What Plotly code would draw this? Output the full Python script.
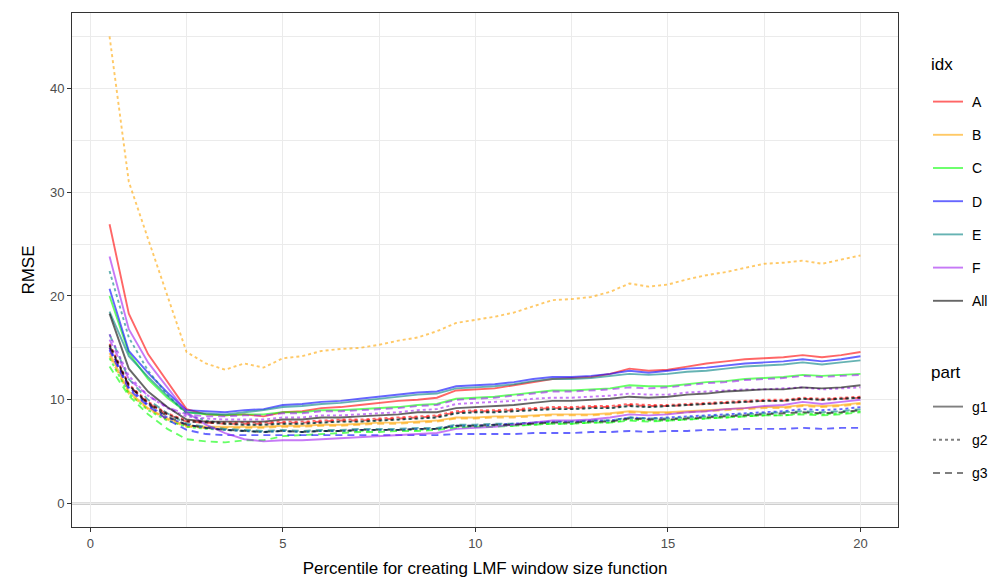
import plotly.graph_objects as go

x = [0.5, 1, 1.5, 2, 2.5, 3, 3.5, 4, 4.5, 5, 5.5, 6, 6.5, 7, 7.5, 8, 8.5, 9, 9.5, 10,
     10.5, 11, 11.5, 12, 12.5, 13, 13.5, 14, 14.5, 15, 15.5, 16, 16.5, 17, 17.5, 18, 18.5, 19, 19.5, 20]

idx_levels = ["A", "B", "C", "D", "E", "F", "All"]
part_levels = ["g1", "g2", "g3"]

A_g1 = [26.9, 18.3, 14.4, 11.8, 9.1, 8.6, 8.5, 8.6, 8.4, 8.8, 8.9, 9.2, 9.3, 9.5, 9.7, 9.9, 10.0, 10.2, 10.9, 11.0,
        11.1, 11.4, 11.7, 12.0, 12.1, 12.2, 12.5, 13.0, 12.8, 12.9, 13.2, 13.5, 13.7, 13.9, 14.0, 14.1, 14.3, 14.1, 14.3, 14.6]
A_g2 = [15.4, 11.5, 9.8, 8.7, 8.0, 7.9, 7.8, 7.8, 7.8, 7.9, 7.9, 8.0, 8.1, 8.1, 8.2, 8.3, 8.4, 8.5, 8.9, 9.0,
        9.0, 9.1, 9.2, 9.3, 9.3, 9.4, 9.4, 9.6, 9.5, 9.5, 9.6, 9.7, 9.8, 9.9, 10.0, 10.0, 10.2, 10.1, 10.2, 10.3]
A_g3 = [15.0, 11.3, 9.7, 8.6, 7.9, 7.8, 7.7, 7.7, 7.7, 7.8, 7.8, 7.9, 8.0, 8.0, 8.1, 8.2, 8.3, 8.4, 8.8, 8.9,
        8.9, 9.0, 9.1, 9.2, 9.2, 9.3, 9.3, 9.5, 9.4, 9.4, 9.5, 9.6, 9.7, 9.8, 9.9, 9.9, 10.1, 10.0, 10.1, 10.2]
B_g1 = [14.5, 10.8, 9.2, 8.2, 7.5, 7.4, 7.4, 7.4, 7.4, 7.5, 7.5, 7.6, 7.6, 7.7, 7.8, 7.8, 7.9, 8.0, 8.3, 8.3,
        8.4, 8.4, 8.5, 8.6, 8.6, 8.6, 8.7, 8.9, 8.8, 8.8, 8.9, 9.0, 9.1, 9.2, 9.3, 9.3, 9.5, 9.4, 9.5, 9.7]
B_g2 = [45.0, 31.0, 25.5, 20.0, 14.6, 13.5, 12.9, 13.5, 13.1, 14.0, 14.2, 14.7, 14.9, 15.0, 15.3, 15.7, 16.0, 16.6, 17.4, 17.7,
        18.0, 18.4, 19.0, 19.6, 19.7, 19.9, 20.4, 21.2, 20.9, 21.1, 21.6, 22.0, 22.3, 22.7, 23.1, 23.2, 23.4, 23.1, 23.5, 23.9]
B_g3 = [14.2, 10.6, 9.1, 8.1, 7.4, 7.3, 7.3, 7.3, 7.3, 7.4, 7.4, 7.5, 7.5, 7.6, 7.7, 7.7, 7.8, 7.9, 8.2, 8.2,
        8.3, 8.3, 8.4, 8.5, 8.5, 8.5, 8.6, 8.8, 8.7, 8.7, 8.8, 8.9, 9.0, 9.1, 9.2, 9.2, 9.4, 9.3, 9.4, 9.6]
C_g1 = [20.0, 14.5, 12.0, 10.2, 8.8, 8.6, 8.5, 8.6, 8.6, 8.8, 8.8, 9.0, 9.0, 9.1, 9.2, 9.3, 9.5, 9.6, 10.1, 10.2,
        10.3, 10.5, 10.7, 10.9, 10.9, 11.0, 11.1, 11.4, 11.3, 11.3, 11.5, 11.7, 11.8, 12.0, 12.1, 12.2, 12.4, 12.3, 12.4, 12.5]
C_g2 = [14.0, 10.6, 9.0, 8.0, 7.4, 7.2, 7.1, 7.0, 6.9, 7.0, 6.9, 7.0, 7.0, 7.0, 7.1, 7.1, 7.1, 7.2, 7.4, 7.4,
        7.5, 7.5, 7.6, 7.7, 7.7, 7.8, 7.8, 8.1, 8.0, 8.0, 8.1, 8.2, 8.3, 8.4, 8.5, 8.5, 8.7, 8.6, 8.7, 8.9]
C_g3 = [13.2, 10.4, 8.6, 7.2, 6.2, 6.0, 5.9, 6.1, 6.1, 6.5, 6.6, 6.7, 6.8, 6.9, 6.9, 7.0, 7.0, 7.1, 7.3, 7.4,
        7.4, 7.5, 7.6, 7.7, 7.7, 7.8, 7.8, 8.0, 7.9, 8.0, 8.1, 8.2, 8.3, 8.4, 8.5, 8.5, 8.6, 8.5, 8.6, 8.8]
D_g1 = [20.7, 14.7, 12.6, 10.7, 9.0, 8.9, 8.8, 9.0, 9.1, 9.5, 9.6, 9.8, 9.9, 10.1, 10.3, 10.5, 10.7, 10.8, 11.3, 11.4,
        11.5, 11.7, 12.0, 12.2, 12.2, 12.3, 12.5, 12.8, 12.6, 12.8, 13.0, 13.1, 13.3, 13.5, 13.6, 13.7, 13.9, 13.7, 13.9, 14.2]
D_g2 = [15.0, 11.2, 9.5, 8.3, 7.6, 7.3, 7.1, 7.0, 6.9, 7.0, 6.9, 7.0, 7.0, 7.1, 7.1, 7.1, 7.2, 7.2, 7.5, 7.5,
        7.6, 7.7, 7.8, 7.9, 7.9, 8.0, 8.0, 8.3, 8.2, 8.3, 8.4, 8.5, 8.6, 8.7, 8.8, 8.9, 9.1, 9.0, 9.1, 9.3]
D_g3 = [14.8, 11.0, 9.4, 8.1, 7.1, 6.7, 6.6, 6.6, 6.6, 6.6, 6.6, 6.6, 6.6, 6.6, 6.6, 6.6, 6.6, 6.6, 6.7, 6.7,
        6.7, 6.7, 6.8, 6.8, 6.8, 6.9, 6.9, 7.0, 6.9, 7.0, 7.0, 7.1, 7.1, 7.2, 7.2, 7.2, 7.3, 7.2, 7.3, 7.3]
E_g1 = [18.5, 14.2, 12.2, 10.4, 8.8, 8.7, 8.6, 8.8, 9.0, 9.3, 9.4, 9.6, 9.7, 9.9, 10.1, 10.3, 10.5, 10.6, 11.1, 11.2,
        11.3, 11.5, 11.8, 12.0, 12.0, 12.1, 12.3, 12.5, 12.4, 12.5, 12.7, 12.8, 13.0, 13.2, 13.3, 13.4, 13.6, 13.4, 13.6, 13.8]
E_g2 = [22.4, 16.0, 12.8, 10.5, 8.6, 8.0, 7.7, 7.6, 7.6, 7.7, 7.7, 7.8, 7.9, 7.9, 8.0, 8.1, 8.2, 8.3, 8.7, 8.8,
        8.8, 8.9, 9.0, 9.1, 9.1, 9.2, 9.2, 9.4, 9.3, 9.4, 9.5, 9.6, 9.7, 9.8, 9.9, 9.9, 10.1, 10.0, 10.1, 10.2]
E_g3 = [16.3, 12.0, 10.0, 8.7, 7.7, 7.4, 7.2, 7.1, 7.0, 7.1, 7.0, 7.1, 7.1, 7.2, 7.2, 7.2, 7.3, 7.3, 7.6, 7.6,
        7.7, 7.7, 7.8, 7.9, 7.9, 8.0, 8.0, 8.3, 8.2, 8.2, 8.3, 8.4, 8.5, 8.6, 8.7, 8.8, 8.9, 8.8, 8.9, 9.1]
F_g1 = [23.8, 16.8, 13.6, 11.2, 8.8, 7.6, 6.8, 6.2, 6.0, 6.1, 6.1, 6.2, 6.3, 6.4, 6.5, 6.6, 6.7, 6.8, 7.2, 7.3,
        7.4, 7.6, 7.8, 8.0, 8.0, 8.1, 8.3, 8.6, 8.5, 8.6, 8.8, 8.9, 9.1, 9.2, 9.4, 9.5, 9.8, 9.6, 9.8, 10.0]
F_g2 = [16.3, 12.3, 10.4, 9.2, 8.4, 8.2, 8.1, 8.1, 8.1, 8.3, 8.3, 8.5, 8.5, 8.6, 8.7, 8.8, 9.0, 9.1, 9.6, 9.7,
        9.8, 9.9, 10.1, 10.2, 10.2, 10.3, 10.4, 10.6, 10.5, 10.5, 10.7, 10.8, 10.9, 11.0, 11.0, 11.1, 11.2, 11.0, 11.1, 11.2]
F_g3 = [15.8, 12.0, 10.4, 9.3, 8.6, 8.4, 8.4, 8.5, 8.5, 8.7, 8.7, 8.9, 8.9, 9.0, 9.1, 9.2, 9.4, 9.5, 10.0, 10.1,
        10.2, 10.4, 10.6, 10.8, 10.8, 10.9, 11.0, 11.2, 11.1, 11.2, 11.4, 11.6, 11.7, 11.9, 12.0, 12.1, 12.3, 12.2, 12.3, 12.4]
All_g1 = [18.3, 13.0, 10.8, 9.3, 8.1, 7.9, 7.9, 7.9, 7.9, 8.1, 8.1, 8.3, 8.3, 8.4, 8.5, 8.6, 8.8, 8.8, 9.2, 9.3,
          9.4, 9.5, 9.7, 9.9, 9.9, 10.0, 10.1, 10.3, 10.2, 10.3, 10.5, 10.6, 10.8, 10.9, 11.0, 11.0, 11.2, 11.1, 11.2, 11.4]
All_g2 = [15.3, 11.4, 9.7, 8.6, 7.9, 7.8, 7.7, 7.6, 7.6, 7.7, 7.7, 7.8, 7.9, 7.9, 8.0, 8.1, 8.2, 8.3, 8.7, 8.8,
          8.8, 8.9, 9.0, 9.1, 9.1, 9.2, 9.2, 9.4, 9.3, 9.4, 9.5, 9.6, 9.7, 9.8, 9.9, 9.9, 10.1, 10.0, 10.1, 10.2]
All_g3 = [15.2, 11.4, 9.6, 8.4, 7.6, 7.3, 7.1, 7.0, 6.9, 7.0, 6.9, 7.0, 7.0, 7.1, 7.1, 7.1, 7.2, 7.2, 7.5, 7.5,
          7.6, 7.6, 7.7, 7.8, 7.8, 7.9, 7.9, 8.2, 8.1, 8.1, 8.2, 8.3, 8.4, 8.5, 8.6, 8.7, 8.8, 8.7, 8.8, 9.0]

series = {
    ("A", "g1"): A_g1, ("A", "g2"): A_g2, ("A", "g3"): A_g3,
    ("B", "g1"): B_g1, ("B", "g2"): B_g2, ("B", "g3"): B_g3,
    ("C", "g1"): C_g1, ("C", "g2"): C_g2, ("C", "g3"): C_g3,
    ("D", "g1"): D_g1, ("D", "g2"): D_g2, ("D", "g3"): D_g3,
    ("E", "g1"): E_g1, ("E", "g2"): E_g2, ("E", "g3"): E_g3,
    ("F", "g1"): F_g1, ("F", "g2"): F_g2, ("F", "g3"): F_g3,
    ("All", "g1"): All_g1, ("All", "g2"): All_g2, ("All", "g3"): All_g3,
}

colors = {
    "A": "rgba(255,0,0,0.6)",
    "B": "rgba(255,165,0,0.6)",
    "C": "rgba(0,255,0,0.6)",
    "D": "rgba(0,0,255,0.6)",
    "E": "rgba(0,128,128,0.6)",
    "F": "rgba(160,32,240,0.6)",
    "All": "rgba(0,0,0,0.6)",
}
dashes = {"g1": "solid", "g2": "3px,3px", "g3": "7px,5px"}

FONT = "Liberation Sans, Arial, sans-serif"
fig = go.Figure()

for i in idx_levels:
    for p in part_levels:
        fig.add_trace(go.Scatter(
            x=x, y=series[(i, p)], mode="lines",
            line=dict(color=colors[i], width=1.9, dash=dashes[p]),
            showlegend=False, hoverinfo="skip"))

# legend entries: idx colours
for i in idx_levels:
    fig.add_trace(go.Scatter(
        x=[None], y=[None], mode="lines", name="\u00a0" + i,
        line=dict(color=colors[i], width=1.9),
        legend="legend", legendgroup="idx" + i))
# legend entries: part line types
for p in part_levels:
    fig.add_trace(go.Scatter(
        x=[None], y=[None], mode="lines", name="\u00a0" + p,
        line=dict(color="rgba(0,0,0,0.5)", width=1.9, dash=dashes[p]),
        legend="legend2", legendgroup="part" + p))

fig.add_hline(y=0, line=dict(color="#BEBEBE", width=2.2), layer="below")

axis_common = dict(
    showline=True, linecolor="#333333", linewidth=1, mirror=True,
    ticks="outside", ticklen=4, tickcolor="#333333", tickwidth=1,
    tickfont=dict(family=FONT, size=13, color="#4D4D4D"),
    showgrid=True, gridcolor="#EBEBEB", gridwidth=1.2, zeroline=False,
    automargin=False,
)

fig.update_layout(
    width=1001, height=578,
    margin=dict(l=72, r=103, t=13, b=51),
    paper_bgcolor="white", plot_bgcolor="white",
    font=dict(family=FONT, color="black"),
    xaxis=dict(range=[-0.475, 20.975], tickvals=[0, 5, 10, 15, 20],
               minor=dict(tickvals=[2.5, 7.5, 12.5, 17.5], showgrid=True,
                          gridcolor="#EBEBEB", gridwidth=0.6, ticks=""),
               title=dict(text="Percentile for creating LMF window size function",
                          font=dict(family=FONT, size=17), standoff=14),
               **axis_common),
    yaxis=dict(range=[-2.25, 47.25], tickvals=[0, 10, 20, 30, 40],
               minor=dict(tickvals=[5, 15, 25, 35, 45], showgrid=True,
                          gridcolor="#EBEBEB", gridwidth=0.6, ticks=""),
               title=dict(text="RMSE", font=dict(family=FONT, size=17), standoff=10),
               **axis_common),
    legend=dict(font=dict(family=FONT, size=14),
                xref="container", yref="container",
                x=928 / 1001, xanchor="left",
                y=1 - 86 / 578, yanchor="top", tracegroupgap=12, itemwidth=30,
                bgcolor="rgba(0,0,0,0)"),
    legend2=dict(font=dict(family=FONT, size=14),
                 xref="container", yref="container",
                 x=928 / 1001, xanchor="left",
                 y=1 - 391 / 578, yanchor="top", tracegroupgap=12, itemwidth=30,
                 bgcolor="rgba(0,0,0,0)"),
    annotations=[
        dict(text="idx", xref="paper", yref="paper", x=(929 - 72) / 826, y=(527 - 65) / 514,
             xanchor="left", yanchor="middle", showarrow=False,
             font=dict(family=FONT, size=17, color="black")),
        dict(text="part", xref="paper", yref="paper", x=(929 - 72) / 826, y=(527 - 372) / 514,
             xanchor="left", yanchor="middle", showarrow=False,
             font=dict(family=FONT, size=17, color="black")),
    ],
)

fig.write_html("out.html")
